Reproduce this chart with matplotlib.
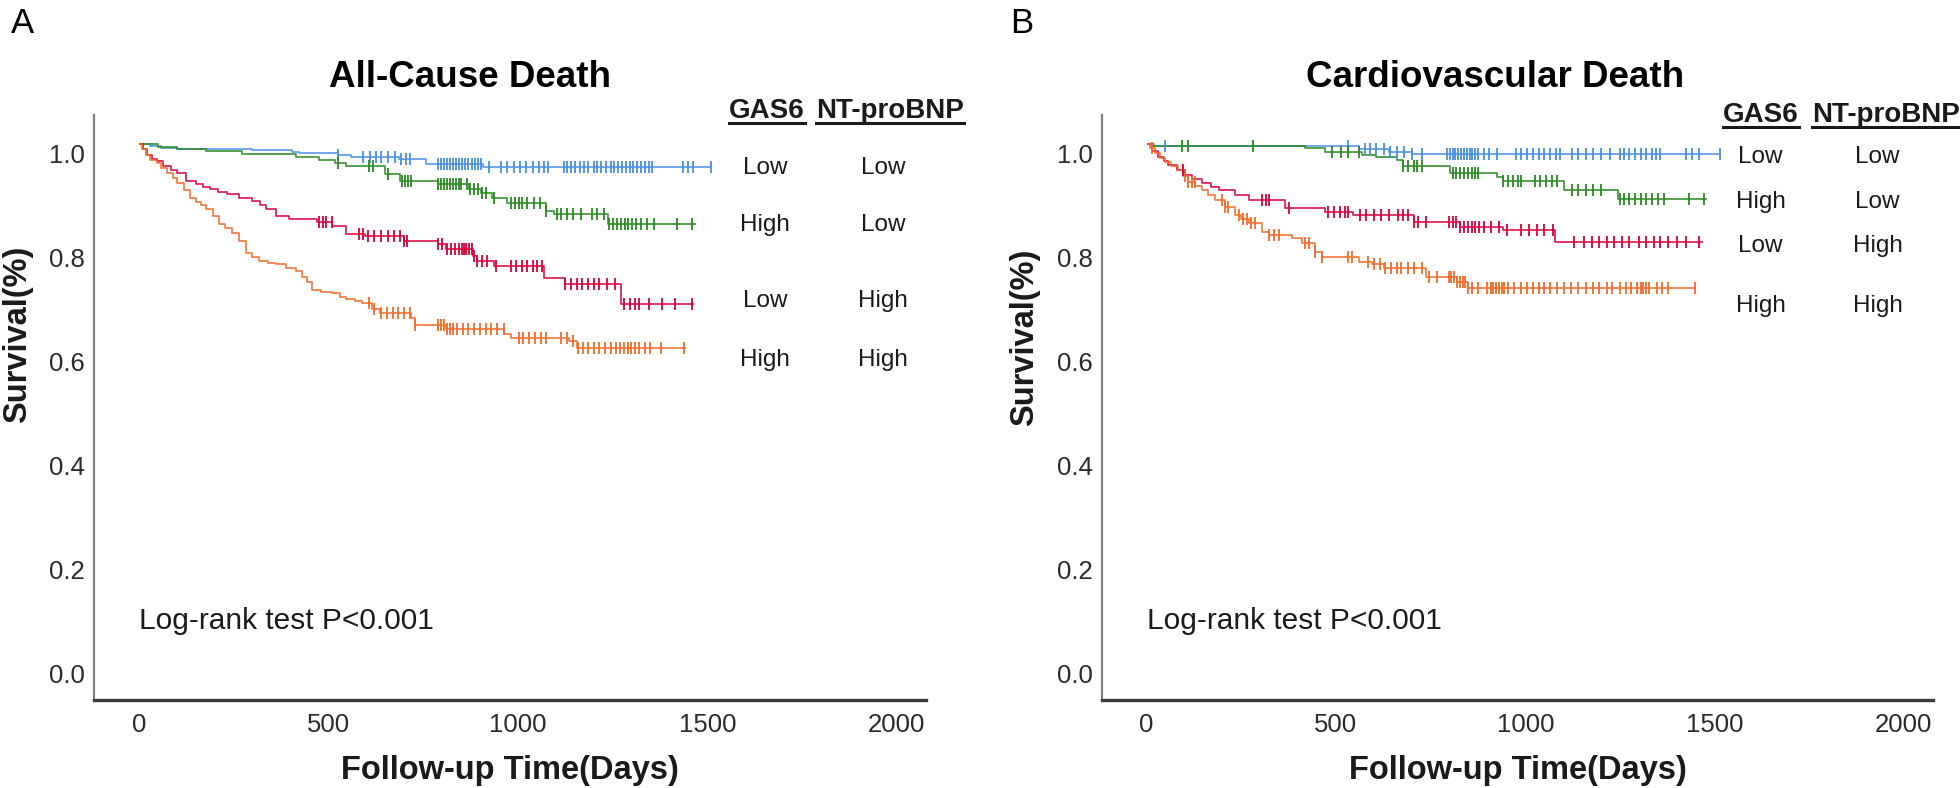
import numpy as np
import matplotlib
matplotlib.use("Agg")
import matplotlib.pyplot as plt
from matplotlib import transforms

plt.rcParams['font.family'] = ['Liberation Sans', 'DejaVu Sans']

# ---------------- data ----------------
groups = ["Low GAS6 / Low NT-proBNP", "High GAS6 / Low NT-proBNP",
          "Low GAS6 / High NT-proBNP", "High GAS6 / High NT-proBNP"]
gas6_levels = ["Low", "High", "Low", "High"]
ntprobnp_levels = ["Low", "Low", "High", "High"]
colors = ["#4a8fe3", "#2a8a22", "#d6003c", "#f36b2b"]

# Panel A: All-cause death  (step times in days, survival after each step)
a_blue_t = [0, 30, 60, 100, 300, 405, 422, 525, 560, 686, 757, 908]
a_blue_s = [1.0, 0.996, 0.993, 0.990, 0.988, 0.985, 0.982, 0.979, 0.975, 0.972, 0.962, 0.956]
a_blue_end = 1509
a_blue_cens = [525, 592, 610, 625, 640, 658, 675, 692, 705, 716, 790, 798, 806, 814, 822, 830, 838,
               846, 854, 862, 870, 878, 886, 894, 902, 925, 956, 972, 989, 1005, 1023, 1040, 1055,
               1068, 1081, 1122, 1130, 1140, 1150, 1165, 1175, 1185, 1200, 1210, 1220, 1232, 1245,
               1255, 1265, 1275, 1285, 1295, 1305, 1315, 1325, 1335, 1345, 1354, 1437, 1450, 1462, 1509]

a_green_t = [0, 50, 100, 177, 272, 414, 475, 519, 546, 651, 689, 789, 871, 902, 931, 971, 1074, 1095, 1237]
a_green_s = [1.0, 0.995, 0.990, 0.986, 0.981, 0.976, 0.970, 0.963, 0.957, 0.943, 0.929, 0.924, 0.913,
             0.906, 0.896, 0.887, 0.871, 0.865, 0.846]
a_green_end = 1471
a_green_cens = [525, 607, 617, 657, 694, 702, 710, 718, 789, 797, 805, 813, 821, 829, 837, 845, 850,
                865, 875, 885, 895, 905, 915, 937, 982, 992, 1002, 1012, 1024, 1042, 1058, 1074, 1103,
                1115, 1130, 1145, 1166, 1195, 1210, 1227, 1240, 1252, 1262, 1272, 1282, 1292, 1302,
                1312, 1325, 1340, 1359, 1419, 1459]

a_red_t = [0, 10, 21, 35, 47, 65, 85, 100, 124, 150, 170, 187, 210, 232, 264, 299, 320, 336, 361, 396,
           470, 510, 546, 598, 700, 789, 810, 881, 892, 937, 1069, 1124, 1272]
a_red_s = [1.0, 0.990, 0.980, 0.972, 0.967, 0.958, 0.950, 0.944, 0.929, 0.923, 0.918, 0.913, 0.908,
           0.904, 0.896, 0.890, 0.882, 0.875, 0.862, 0.856, 0.850, 0.842, 0.827, 0.823, 0.813, 0.808,
           0.798, 0.785, 0.775, 0.765, 0.742, 0.731, 0.692]
a_red_end = 1464
a_red_cens = [475, 485, 495, 509, 580, 592, 605, 620, 640, 657, 673, 690, 700, 707, 789, 800, 812, 825,
              835, 845, 852, 858, 864, 871, 878, 884, 892, 905, 920, 942, 982, 995, 1010, 1025, 1040,
              1052, 1063, 1124, 1140, 1155, 1170, 1185, 1200, 1215, 1235, 1256, 1280, 1295, 1310, 1320,
              1345, 1380, 1415, 1459]

a_orange_t = [0, 8, 18, 30, 47, 60, 75, 90, 100, 120, 134, 150, 165, 178, 195, 213, 228, 245, 264, 282,
              300, 318, 340, 363, 388, 414, 432, 445, 457, 480, 510, 530, 546, 570, 589, 616, 637, 717,
              728, 810, 964, 982, 1135, 1155]
a_orange_s = [1.0, 0.990, 0.980, 0.970, 0.963, 0.955, 0.945, 0.935, 0.925, 0.912, 0.897, 0.888, 0.882,
              0.875, 0.862, 0.846, 0.838, 0.830, 0.813, 0.790, 0.782, 0.775, 0.772, 0.769, 0.762, 0.756,
              0.745, 0.735, 0.720, 0.716, 0.713, 0.706, 0.702, 0.698, 0.694, 0.683, 0.675, 0.665, 0.653,
              0.644, 0.635, 0.627, 0.621, 0.608]
a_orange_end = 1443
a_orange_cens = [607, 620, 640, 655, 670, 685, 700, 715, 728, 789, 797, 805, 813, 821, 829, 840, 855, 870,
                 885, 900, 915, 930, 945, 963, 1003, 1015, 1030, 1045, 1060, 1074, 1113, 1130, 1145, 1160,
                 1172, 1185, 1200, 1215, 1230, 1245, 1260, 1270, 1280, 1290, 1300, 1310, 1320, 1335, 1350,
                 1377, 1438]

# Panel B: Cardiovascular death
b_blue_t = [0, 20, 560, 640, 700]
b_blue_s = [1.0, 0.996, 0.990, 0.985, 0.981]
b_blue_end = 1514
b_blue_cens = [48, 533, 576, 590, 605, 626, 642, 660, 680, 700, 727, 793, 800, 808, 815, 822, 830, 838,
               846, 853, 860, 868, 875, 890, 905, 925, 975, 990, 1005, 1020, 1035, 1050, 1065, 1080,
               1091, 1123, 1140, 1160, 1180, 1200, 1223, 1250, 1262, 1275, 1290, 1305, 1320, 1335, 1345,
               1355, 1424, 1440, 1460, 1514]

b_green_t = [0, 15, 418, 470, 568, 605, 660, 676, 800, 925, 940, 1102, 1244]
b_green_s = [1.0, 0.996, 0.992, 0.985, 0.979, 0.975, 0.969, 0.958, 0.945, 0.937, 0.929, 0.912, 0.895]
b_green_end = 1480
b_green_cens = [92, 110, 282, 489, 512, 533, 560, 676, 690, 705, 715, 727, 808, 818, 828, 838, 848, 858,
                868, 875, 940, 955, 968, 980, 990, 1025, 1040, 1055, 1070, 1083, 1123, 1140, 1160, 1180,
                1200, 1250, 1262, 1275, 1290, 1305, 1320, 1335, 1350, 1366, 1432, 1472]

b_red_t = [0, 15, 31, 45, 57, 80, 101, 120, 145, 170, 190, 233, 269, 365, 471, 544, 705, 827, 940, 1078]
b_red_s = [1.0, 0.987, 0.975, 0.967, 0.960, 0.950, 0.940, 0.932, 0.925, 0.918, 0.912, 0.902, 0.892,
           0.878, 0.870, 0.863, 0.850, 0.840, 0.835, 0.812]
b_red_end = 1469
b_red_cens = [97, 304, 314, 322, 375, 480, 495, 510, 523, 533, 563, 580, 600, 620, 640, 665, 676, 690,
              705, 716, 737, 798, 808, 818, 828, 838, 848, 858, 868, 878, 890, 909, 930, 951, 990, 1010,
              1030, 1050, 1072, 1128, 1155, 1175, 1195, 1215, 1234, 1255, 1275, 1300, 1320, 1340, 1355,
              1377, 1400, 1425, 1458]

b_orange_t = [0, 10, 21, 35, 48, 65, 84, 97, 110, 128, 145, 162, 180, 206, 233, 250, 269, 304, 322, 383,
              410, 444, 462, 560, 594, 626, 737, 819, 848]
b_orange_s = [1.0, 0.992, 0.983, 0.973, 0.965, 0.958, 0.950, 0.938, 0.927, 0.920, 0.912, 0.902, 0.892,
              0.879, 0.863, 0.856, 0.848, 0.831, 0.825, 0.819, 0.810, 0.792, 0.783, 0.773, 0.769, 0.762,
              0.744, 0.735, 0.724]
b_orange_end = 1448
b_orange_cens = [13, 100, 110, 120, 127, 198, 207, 216, 243, 255, 265, 275, 285, 322, 335, 349, 417, 430,
                 445, 462, 533, 542, 584, 600, 615, 630, 645, 660, 673, 690, 705, 727, 745, 766, 798, 805,
                 812, 820, 828, 835, 842, 848, 860, 875, 898, 909, 915, 922, 930, 938, 945, 955, 970, 990,
                 1005, 1020, 1035, 1050, 1065, 1083, 1102, 1120, 1140, 1160, 1180, 1194, 1215, 1230, 1250,
                 1265, 1280, 1295, 1305, 1312, 1319, 1326, 1347, 1360, 1376, 1448]

x_ticks = [0, 500, 1000, 1500, 2000]
y_ticks = [0.0, 0.2, 0.4, 0.6, 0.8, 1.0]
y_tick_labels = ["0.0", "0.2", "0.4", "0.6", "0.8", "1.0"]

panel_A = dict(letter="A", title="All-Cause Death",
               curves=[(a_blue_t, a_blue_s, a_blue_end, a_blue_cens),
                       (a_green_t, a_green_s, a_green_end, a_green_cens),
                       (a_red_t, a_red_s, a_red_end, a_red_cens),
                       (a_orange_t, a_orange_s, a_orange_end, a_orange_cens)])
panel_B = dict(letter="B", title="Cardiovascular Death",
               curves=[(b_blue_t, b_blue_s, b_blue_end, b_blue_cens),
                       (b_green_t, b_green_s, b_green_end, b_green_cens),
                       (b_red_t, b_red_s, b_red_end, b_red_cens),
                       (b_orange_t, b_orange_s, b_orange_end, b_orange_cens)])

# ---------------- figure ----------------
W, H, DPI = 1960, 788, 100
fig = plt.figure(figsize=(W / DPI, H / DPI), dpi=DPI)

TXT = "#1a1a1a"

def px2fx(px):
    return px / W

def py2fy(py):
    return 1 - py / H

layout = {
    "A": dict(ax=[94, 115, 926, 700], title_x=470, ylab_x=18, ylab_y=334, letter_x=11,
              hdr=(1658, 1983, 1.050), cols=(1653, 1964), rows=[0.942, 0.833, 0.687, 0.573]),
    "B": dict(ax=[1102, 118, 1933, 700], title_x=1495, ylab_x=1025, ylab_y=337, letter_x=1010,
              hdr=(1622, 1952, 1.042), cols=(1622, 1931), rows=[0.963, 0.877, 0.792, 0.677]),
}

XLIM = (-118, 2077)
YLIM = (-0.069, 1.056)

for panel in (panel_A, panel_B):
    L = layout[panel["letter"]]
    x0, y0, x1, y1 = L["ax"]
    ax = fig.add_axes([px2fx(x0), py2fy(y1), (x1 - x0) / W, (y1 - 115) / H])
    ax.set_xlim(*XLIM)
    ax.set_ylim(*YLIM)

    for (t, s, tend, cens), col in zip(panel["curves"], colors):
        t = np.asarray(t, float)
        s = np.asarray(s, float)
        ax.step(np.r_[t, tend], np.r_[s, s[-1]], where="post", color=col, lw=1.3,
                alpha=0.85, solid_capstyle="butt", zorder=2)
        c = np.asarray(cens, float)
        idx = np.searchsorted(t, c, side="right") - 1
        ax.plot(c, s[idx], linestyle="none", marker="|", markersize=8.5,
                markeredgewidth=1.3, color=col, zorder=3)

    # axes styling
    for sp in ("top", "right"):
        ax.spines[sp].set_visible(False)
    ax.spines["left"].set_color("#808080")
    ax.spines["left"].set_linewidth(1.6)
    ax.spines["bottom"].set_color("#3a3a3a")
    ax.spines["bottom"].set_linewidth(2.4)
    ax.set_xticks(x_ticks)
    ax.set_yticks(y_ticks)
    ax.set_yticklabels(y_tick_labels)
    ax.tick_params(axis="both", length=0, labelsize=18.5, labelcolor="#2a2a2a")
    ax.tick_params(axis="x", pad=9.5)
    ax.tick_params(axis="y", pad=6.5)
    off = transforms.ScaledTranslation(0, -9 / DPI, fig.dpi_scale_trans)
    for lab in ax.get_yticklabels():
        lab.set_transform(lab.get_transform() + off)

    # log-rank annotation
    ax.text(0, 0.068, "Log-rank test P<0.001", fontsize=21.5, color=TXT, ha="left", va="baseline")

    # title, axis labels, panel letter
    fig.text(px2fx(L["title_x"]), py2fy(87), panel["title"], fontsize=26.5, fontweight="bold",
             ha="center", va="baseline", color="black")
    fig.text(px2fx(L["ylab_x"]), py2fy(L["ylab_y"]), "Survival(%)", fontsize=23.5,
             fontweight="bold", rotation=90, ha="center", va="center", color=TXT)
    fig.text(px2fx((x0 + x1) / 2), py2fy(779), "Follow-up Time(Days)", fontsize=23.5,
             fontweight="bold", ha="center", va="baseline", color=TXT)
    fig.text(px2fx(L["letter_x"]), py2fy(33), panel["letter"], fontsize=25, ha="left",
             va="baseline", color="black")

    # group table (legend)
    hx1, hx2, hy = L["hdr"]
    h1 = ax.text(hx1, hy, "GAS6", fontsize=20, fontweight="bold", ha="center", va="baseline",
                 color=TXT, clip_on=False)
    h2 = ax.text(hx2, hy, "NT-proBNP", fontsize=20, fontweight="bold", ha="center", va="baseline",
                 color=TXT, clip_on=False)
    cx1, cx2 = L["cols"]
    for g, n, ry in zip(gas6_levels, ntprobnp_levels, L["rows"]):
        ax.text(cx1, ry, g, fontsize=17.5, ha="center", va="baseline", color=TXT, clip_on=False)
        ax.text(cx2, ry, n, fontsize=17.5, ha="center", va="baseline", color=TXT, clip_on=False)
    panel["ax"] = ax
    panel["hdrs"] = (h1, h2, hy)

# underline the table headers
fig.canvas.draw()
renderer = fig.canvas.get_renderer()
for panel in (panel_A, panel_B):
    ax = panel["ax"]
    h1, h2, hy = panel["hdrs"]
    base_px = ax.transData.transform((0, hy))[1]
    for h in (h1, h2):
        bb = h.get_window_extent(renderer)
        yy = (base_px - 5) / H
        fig.add_artist(plt.Line2D([bb.x0 / W, bb.x1 / W], [yy, yy], transform=fig.transFigure,
                                  color=TXT, lw=2.2))

fig.savefig("out.png", dpi=DPI)
